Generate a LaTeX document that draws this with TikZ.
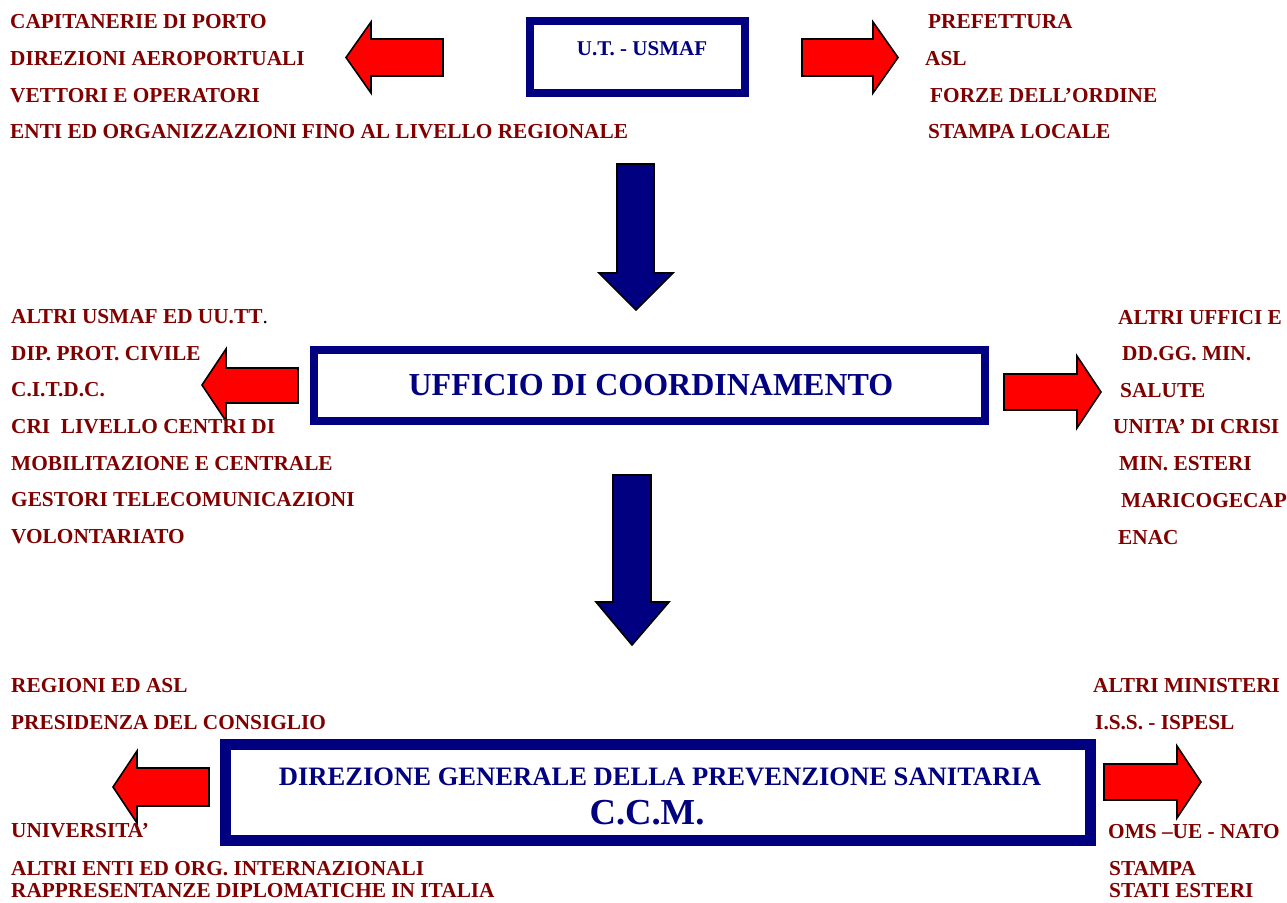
\documentclass[tikz,border=0pt]{standalone}
\usepackage{fontspec}
\setmainfont{Liberation Serif}
\definecolor{txtred}{RGB}{128,0,0}
\definecolor{navyb}{RGB}{0,0,128}
\definecolor{arrred}{RGB}{255,0,0}
\begin{document}
\begin{tikzpicture}[x=1pt,y=-1pt,
  lbl/.style={anchor=base west, inner sep=0pt, text=txtred, font=\fontsize{21.3}{25}\selectfont\bfseries},
  boxtxt/.style={anchor=base, inner sep=0pt, text=navyb},
  frame/.style={draw=navyb, fill=white, inner sep=0pt, outer sep=0pt},
  redarrow/.style={fill=arrred, draw=black, line width=1.6pt, line join=miter},
  bluearrow/.style={fill=navyb, draw=black, line width=1.6pt, line join=miter}]
\useasboundingbox (0,0) rectangle (1287,902);
\fill[white] (0,0) rectangle (1287,902);

% boxes
\node[frame, line width=8pt, minimum width=215pt, minimum height=72pt] (ut) at (637.5,57) {};
\node[frame, line width=8pt, minimum width=671pt, minimum height=71pt] (uc) at (649.5,385.5) {};
\node[frame, line width=11pt, minimum width=865pt, minimum height=96pt] (dg) at (658,792.5) {};

% block arrows
\draw[redarrow] (443,39) -- (371,39) -- (371,22) -- (346,57.5) -- (371,93) -- (371,76) -- (443,76) -- cycle;
\draw[redarrow] (802,39) -- (873,39) -- (873,22) -- (898,57.5) -- (873,93) -- (873,76) -- (802,76) -- cycle;
\draw[bluearrow] (617,164) -- (654,164) -- (654,273) -- (673,273) -- (636,310) -- (599,273) -- (617,273) -- cycle;
\draw[bluearrow] (613,475) -- (651,475) -- (651,602) -- (669,602) -- (632,645) -- (596,602) -- (613,602) -- cycle;
\draw[redarrow] (298,368) -- (226,368) -- (226,349) -- (202,385) -- (226,421) -- (226,403) -- (298,403) -- cycle;
\draw[redarrow] (1004,374) -- (1077,374) -- (1077,356) -- (1101,392) -- (1077,428) -- (1077,410) -- (1004,410) -- cycle;
\draw[redarrow] (209,768) -- (137,768) -- (137,751) -- (113,787) -- (137,823) -- (137,806) -- (209,806) -- cycle;
\draw[redarrow] (1104,764) -- (1177,764) -- (1177,746) -- (1201,782) -- (1177,818) -- (1177,800) -- (1104,800) -- cycle;

% box texts
\node[boxtxt, font=\fontsize{21}{25}\selectfont\bfseries] (utt) at (642,55) {U.T. - USMAF};
\node[boxtxt, font=\fontsize{32}{36}\selectfont\bfseries] (uct) at (651,395) {UFFICIO DI COORDINAMENTO};
\node[boxtxt, font=\fontsize{26.6}{30}\selectfont\bfseries] (dgt1) at (660,785) {DIREZIONE GENERALE DELLA PREVENZIONE SANITARIA};
\node[boxtxt, font=\fontsize{36.6}{40}\selectfont\bfseries] (dgt2) at (647,824) {C.C.M.};

% top left
\node[lbl] (tl1) at (10,28) {CAPITANERIE DI PORTO};
\node[lbl] (tl2) at (10,65) {DIREZIONI AEROPORTUALI};
\node[lbl] (tl3) at (10,102) {VETTORI E OPERATORI};
\node[lbl] (tl4) at (10,138) {ENTI ED ORGANIZZAZIONI FINO AL LIVELLO REGIONALE};
% top right
\node[lbl] (tr1) at (928,28) {PREFETTURA};
\node[lbl] (tr2) at (925,65) {ASL};
\node[lbl] (tr3) at (930,102) {FORZE DELL’ORDINE};
\node[lbl] (tr4) at (928,138) {STAMPA LOCALE};
% middle left
\node[lbl] (ml1) at (11,323) {ALTRI USMAF ED UU.TT\textcolor{black}{\mdseries .}};
\node[lbl] (ml2) at (11,360) {DIP. PROT. CIVILE};
\node[lbl] (ml3) at (11,396) {C.I.T.D.C.};
\node[lbl] (ml4) at (11,433) {CRI\ \ LIVELLO CENTRI DI};
\node[lbl] (ml5) at (11,470) {MOBILITAZIONE E CENTRALE};
\node[lbl] (ml6) at (11,506) {GESTORI TELECOMUNICAZIONI};
\node[lbl] (ml7) at (11,543) {VOLONTARIATO};
% middle right
\node[lbl] (mr1) at (1118,324) {ALTRI UFFICI E};
\node[lbl] (mr2) at (1122,360) {DD.GG. MIN.};
\node[lbl] (mr3) at (1120,397) {SALUTE};
\node[lbl] (mr4) at (1113,433) {UNITA’ DI\ CRISI};
\node[lbl] (mr5) at (1119,470) {MIN. ESTERI};
\node[lbl] (mr6) at (1121,507) {MARICOGECAP};
\node[lbl] (mr7) at (1118,544) {ENAC};
% bottom left
\node[lbl] (bl1) at (11,692) {REGIONI ED ASL};
\node[lbl] (bl2) at (11,729) {PRESIDENZA DEL CONSIGLIO};
\node[lbl] (bl3) at (11,837) {UNIVERSITA’};
\node[lbl] (bl4) at (11,875) {ALTRI ENTI ED ORG. INTERNAZIONALI};
\node[lbl] (bl5) at (11,897) {RAPPRESENTANZE DIPLOMATICHE IN ITALIA};
% bottom right
\node[lbl] (br1) at (1093,692) {ALTRI MINISTERI};
\node[lbl] (br2) at (1095,729) {I.S.S. - ISPESL};
\node[lbl] (br3) at (1108,838) {OMS –UE - NATO};
\node[lbl] (br4) at (1109,875) {STAMPA};
\node[lbl] (br5) at (1109,897) {STATI ESTERI};
\end{tikzpicture}
\end{document}
